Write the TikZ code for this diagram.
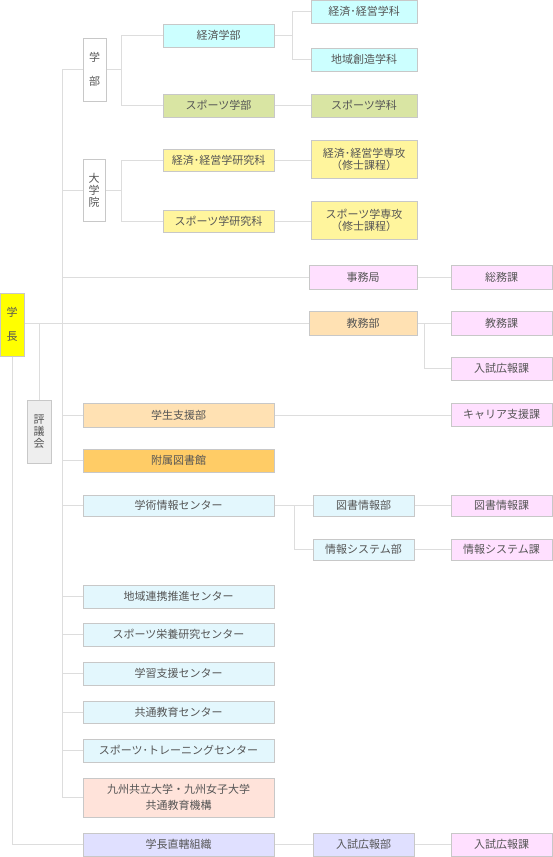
\documentclass[tikz,border=0pt]{standalone}
\usepackage{fontspec}
\setmainfont{Noto Sans CJK JP}
\definecolor{boxline}{HTML}{C8C8C8}
\definecolor{linegray}{HTML}{DDDDDD}
\definecolor{txt}{HTML}{555555}
\definecolor{cyanbox}{HTML}{CCFFFF}
\definecolor{greenbox}{HTML}{D9E5A3}
\definecolor{yellowbox}{HTML}{FFF59D}
\definecolor{headbox}{HTML}{FFFF00}
\definecolor{pinkbox}{HTML}{FFE0FF}
\definecolor{peachbox}{HTML}{FFE1B3}
\definecolor{orangebox}{HTML}{FFCC66}
\definecolor{bluebox}{HTML}{E3F7FD}
\definecolor{rosebox}{HTML}{FFE3DA}
\definecolor{lilacbox}{HTML}{E0E0FF}
\definecolor{graybox}{HTML}{EEEEEE}
\begin{document}
\begin{tikzpicture}[x=1pt, y=-1pt,
  box/.style={draw=boxline, line width=1pt, text=txt, inner sep=0pt,
    minimum height=23pt, align=center, font=\fontsize{11}{12}\selectfont},
  conn/.style={draw=linegray, line width=1pt}]
\useasboundingbox (0,0) rectangle (552,857);

% left column
\node[box, fill=headbox, minimum width=24pt, minimum height=63pt] (gakucho) at (12,324.5) {学\\[12pt]長};
\node[box, fill=graybox, minimum width=24pt, minimum height=63pt] (hyogikai) at (39,431.5) {評\\議\\会};
\node[box, fill=white, minimum width=23pt, minimum height=63pt] (gakubu) at (94.5,69.5) {学\\[12pt]部};
\node[box, fill=white, minimum width=22pt, minimum height=62pt] (daigakuin) at (94,190) {大\\学\\院};

% faculties and graduate school
\node[box, fill=cyanbox, minimum width=111pt] (keizai) at (218.5,35.5) {経済学部};
\node[box, fill=greenbox, minimum width=111pt] (sports) at (218.5,105.5) {スポーツ学部};
\node[box, fill=yellowbox, minimum width=111pt, minimum height=22pt] (kenkyu1) at (218.5,160) {経済･経営学研究科};
\node[box, fill=yellowbox, minimum width=111pt, minimum height=22pt] (kenkyu2) at (218.5,221) {スポーツ学研究科};

\node[box, fill=cyanbox, minimum width=106pt] (gakka1) at (364,11.5) {経済･経営学科};
\node[box, fill=cyanbox, minimum width=106pt] (gakka2) at (364,59.5) {地域創造学科};
\node[box, fill=greenbox, minimum width=106pt] (sgakka) at (364,105.5) {スポーツ学科};
\node[box, fill=yellowbox, minimum width=106pt, minimum height=38pt] (senko1) at (364,159) {経済･経営学専攻\\（修士課程）};
\node[box, fill=yellowbox, minimum width=106pt, minimum height=38pt] (senko2) at (364,220) {スポーツ学専攻\\（修士課程）};

% administration
\node[box, fill=pinkbox, minimum width=108pt, minimum height=24pt] (jimu) at (363,277) {事務局};
\node[box, fill=pinkbox, minimum width=101pt, minimum height=24pt] (somu) at (501.5,277) {総務課};
\node[box, fill=peachbox, minimum width=108pt, minimum height=24pt] (kyomubu) at (363,323) {教務部};
\node[box, fill=pinkbox, minimum width=101pt, minimum height=24pt] (kyomuka) at (501.5,323) {教務課};
\node[box, fill=pinkbox, minimum width=101pt] (nyushika) at (501.5,368.5) {入試広報課};

\node[box, fill=peachbox, minimum width=191pt, minimum height=24pt] (gakusei) at (178.5,415) {学生支援部};
\node[box, fill=pinkbox, minimum width=101pt] (career) at (501.5,414.5) {キャリア支援課};
\node[box, fill=orangebox, minimum width=191pt] (fuzoku) at (178.5,460.5) {附属図書館};

% centers
\node[box, fill=bluebox, minimum width=191pt, minimum height=21pt] (gakujutsu) at (178.5,505.5) {学術情報センター};
\node[box, fill=bluebox, minimum width=101pt, minimum height=21pt] (toshobu) at (363.5,505.5) {図書情報部};
\node[box, fill=pinkbox, minimum width=101pt, minimum height=21pt] (toshoka) at (501.5,505.5) {図書情報課};
\node[box, fill=bluebox, minimum width=101pt, minimum height=21pt] (johobu) at (363.5,549.5) {情報システム部};
\node[box, fill=pinkbox, minimum width=101pt, minimum height=21pt] (johoka) at (501.5,549.5) {情報システム課};

\node[box, fill=bluebox, minimum width=191pt] (chiiki) at (178.5,596.5) {地域連携推進センター};
\node[box, fill=bluebox, minimum width=191pt] (eiyo) at (178.5,634.5) {スポーツ栄養研究センター};
\node[box, fill=bluebox, minimum width=191pt] (gakushu) at (178.5,673.5) {学習支援センター};
\node[box, fill=bluebox, minimum width=191pt, minimum height=22pt] (kyotsu) at (178.5,712) {共通教育センター};
\node[box, fill=bluebox, minimum width=191pt] (training) at (178.5,750.5) {スポーツ･トレーニングセンター};
\node[box, fill=rosebox, minimum width=191pt, minimum height=39pt] (kyushu) at (178.5,797.5) {九州共立大学・九州女子大学\\[4pt]共通教育機構};

\node[box, fill=lilacbox, minimum width=191pt] (chokkatsu) at (178.5,844.5) {学長直轄組織};
\node[box, fill=lilacbox, minimum width=101pt] (nyushibu) at (363.5,844.5) {入試広報部};
\node[box, fill=pinkbox, minimum width=101pt] (nyushika2) at (501.5,844.5) {入試広報課};

% connectors
\coordinate (trunk) at (62,0);
\coordinate (fork1) at (121,0);
\coordinate (fork2) at (292,0);
\coordinate (fork3) at (424,0);
\coordinate (fork4) at (294,0);
\draw[conn] (trunk |- gakubu.west) -- (trunk |- kyushu.west);
\foreach \n in {gakubu,daigakuin,jimu,gakusei,fuzoku,gakujutsu,chiiki,eiyo,gakushu,kyotsu,training,kyushu}
  \draw[conn] (\n.west) -- (\n.west -| trunk);
\draw[conn] (gakucho.east |- kyomubu.west) -- (kyomubu.west);
\draw[conn] (hyogikai.north) -- (hyogikai.north |- kyomubu.west);
\draw[conn] (gakucho.south) |- (chokkatsu.west);

\draw[conn] (gakubu.east) -- (gakubu.east -| fork1);
\draw[conn] (keizai.west) -- (keizai.west -| fork1) |- (sports.west);
\draw[conn] (daigakuin.east) -- (daigakuin.east -| fork1);
\draw[conn] (kenkyu1.west) -- (kenkyu1.west -| fork1) |- (kenkyu2.west);

\draw[conn] (keizai.east) -- (keizai.east -| fork2);
\draw[conn] (gakka1.west) -- (gakka1.west -| fork2) |- (gakka2.west);
\draw[conn] (sports) -- (sgakka);
\draw[conn] (kenkyu1.east) -- (kenkyu1.east -| senko1.west);
\draw[conn] (kenkyu2.east) -- (kenkyu2.east -| senko2.west);

\draw[conn] (jimu) -- (somu);
\draw[conn] (kyomubu) -- (kyomuka);
\draw[conn] (kyomubu.east -| fork3) |- (nyushika.west);
\draw[conn] (gakusei.east) -- (gakusei.east -| career.west);

\draw[conn] (gakujutsu) -- (toshobu);
\draw[conn] (gakujutsu.east -| fork4) |- (johobu.west);
\draw[conn] (toshobu) -- (toshoka);
\draw[conn] (johobu) -- (johoka);

\draw[conn] (chokkatsu) -- (nyushibu);
\draw[conn] (nyushibu) -- (nyushika2);
\end{tikzpicture}
\end{document}
